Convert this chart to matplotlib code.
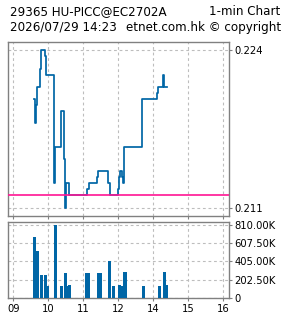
import matplotlib
matplotlib.use("Agg")
import matplotlib.pyplot as plt

# ---- data ----
price_times = ["09:36", "09:38", "09:39", "09:41", "09:46", "09:48", "09:54", "09:56",
               "10:09", "10:12", "10:21", "10:22", "10:27", "10:29", "10:31", "10:36",
               "11:07", "11:09", "11:24", "11:26", "11:43", "11:45",
               "13:00", "13:01", "13:02", "13:03", "13:07", "13:08", "13:10",
               "13:41", "14:07", "14:08", "14:17", "14:18", "14:19", "14:23"]
prices = [0.220, 0.218, 0.2195, 0.221, 0.2225, 0.224, 0.2235, 0.222,
          0.213, 0.216, 0.2175, 0.219, 0.215, 0.211, 0.213, 0.212,
          0.2125, 0.213, 0.2135, 0.214, 0.213, 0.212,
          0.2125, 0.213, 0.2135, 0.214, 0.2135, 0.213, 0.216,
          0.220, 0.2205, 0.221, 0.222, 0.2215, 0.221, 0.221]
ref_price = 0.212

vol_times = ["09:36", "09:37", "09:39", "09:41", "09:47", "09:54", "09:56", "09:58",
             "10:11", "10:12", "10:22", "10:29", "10:34", "10:36",
             "11:05", "11:08", "11:25", "11:29", "11:44", "11:51",
             "13:02", "13:05", "13:09", "13:12", "13:43", "14:09", "14:19", "14:22"]
volumes = [675000, 420000, 255000, 520000, 255000, 255000, 135000, 135000,
           810000, 285000, 135000, 275000, 135000, 140000,
           275000, 275000, 275000, 275000, 410000, 135000,
           140000, 135000, 285000, 285000, 135000, 135000, 285000, 140000]

hour_labels = ["09", "10", "11", "12", "14", "15", "16"]
price_ticks = [0.211, 0.224]
price_tick_labels = ["0.211", "0.224"]
vol_ticks = [0, 202500, 405000, 607500, 810000]
vol_tick_labels = ["0", "202.50K", "405.00K", "607.50K", "810.00K"]

title_left1 = "29365 HU-PICC@EC2702A"
title_right1 = "1-min Chart"
title_left2 = "2026/07/29 14:23"
title_right2 = "etnet.com.hk © copyright"


def to_pos(t):
    h, m = map(int, t.split(":"))
    return (h - 9 if h <= 12 else h - 10) + m / 60.0


hour_pos = [to_pos(h + ":00") for h in hour_labels]

W, H = 285, 318
fig = plt.figure(figsize=(W / 100, H / 100), dpi=100)
fig.patch.set_facecolor("white")

blue = "#0066a6"
magenta = "#ff1493"
spine_c = "#808080"
grid_c = "#bdbdbd"
dash = (0, (2.5, 2.5))


def fax(l, t, r, b):
    return [l / W, 1 - b / H, (r - l) / W, (b - t) / H]


ax = fig.add_axes(fax(8, 42, 229, 216))
axv = fig.add_axes(fax(8, 221.7, 229, 298))

xlim = (-0.15, 6.16)

# price panel
px = [to_pos(t) for t in price_times]
ax.plot(px, prices, drawstyle="steps-post", color=blue, lw=1.25, zorder=3)
ax.axhline(ref_price, color=magenta, lw=1.2, zorder=4)
ax.set_xlim(*xlim)
ax.set_ylim(0.2103, 0.2247)
ax.set_xticks(hour_pos)
ax.set_xticklabels([])
ax.tick_params(axis="x", length=0)
ax.yaxis.tick_right()
ax.set_yticks(price_ticks)
ax.set_yticklabels(price_tick_labels)
ax.grid(True, color=grid_c, lw=0.8, linestyle=dash, zorder=0)

# volume panel (narrow bars)
vx = [to_pos(t) for t in vol_times]
axv.vlines(vx, 0, volumes, colors=blue, lw=0.8, zorder=3, antialiased=False)
axv.set_xlim(*xlim)
axv.set_ylim(0, 845000)
axv.set_xticks(hour_pos)
axv.set_xticklabels(hour_labels)
axv.yaxis.tick_right()
axv.set_yticks(vol_ticks)
axv.set_yticklabels(vol_tick_labels)
axv.grid(True, color=grid_c, lw=0.8, linestyle=dash, zorder=0)

for a in (ax, axv):
    for s in a.spines.values():
        s.set_color(spine_c)
        s.set_linewidth(1.0)
    a.tick_params(axis="both", colors=spine_c, labelcolor="black",
                  labelsize=7.2, length=2.5, width=0.8, pad=1.5)
    a.set_axisbelow(True)

fs = 8.6
fig.text(10 / W, 1 - 15 / H, title_left1, fontsize=fs, ha="left", va="baseline")
fig.text(280 / W, 1 - 15 / H, title_right1, fontsize=fs, ha="right", va="baseline")
fig.text(10 / W, 1 - 30.5 / H, title_left2, fontsize=fs, ha="left", va="baseline")
fig.text(281 / W, 1 - 30.5 / H, title_right2, fontsize=fs, ha="right", va="baseline")

fig.savefig("out.png", dpi=100, facecolor="white")
